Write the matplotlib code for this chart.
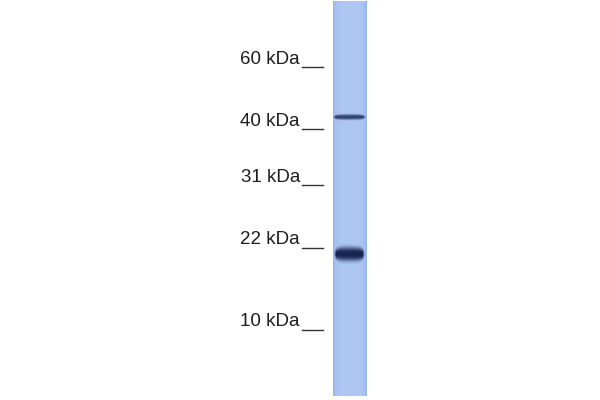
import numpy as np
import matplotlib
matplotlib.use("Agg")
import matplotlib.pyplot as plt

# marker ladder (label, vertical position in px)
marker_labels = ["60 kDa", "40 kDa", "31 kDa", "22 kDa", "10 kDa"]
marker_y = [59, 121, 177, 240, 322]

# bands seen in the lane: centre y, half thickness, half width (fraction of lane), darkness
band_y = [117, 254]
band_half = [2.6, 6.8]
band_width = [0.97, 0.92]
band_strength = [0.8, 1.0]

lane_left, lane_right = 333, 367
lane_top, lane_bottom = 1, 396

fig = plt.figure(figsize=(6, 4), dpi=100)
ax = fig.add_axes([0, 0, 1, 1])
ax.set_xlim(0, 600)
ax.set_ylim(400, 0)
ax.axis("off")

# build lane image
h = lane_bottom - lane_top
w = lane_right - lane_left
yy = np.arange(h)[:, None] + lane_top + 0.5
xx = np.arange(w)[None, :] + 0.5
xn = (xx - w / 2) / (w / 2)
base = np.array([174, 199, 243]) / 255
edge = np.array([150, 180, 236]) / 255
edge_w = np.clip(np.abs(xn) ** 5, 0, 1)[..., None]
img = base * (1 - edge_w) + edge * edge_w
img = np.broadcast_to(img, (h, w, 3)).copy()
dark = np.array([22, 36, 82]) / 255
for by, bh, bw, bs in zip(band_y, band_half, band_width, band_strength):
    # thickness shrinks toward the band ends -> rounded blob
    xr = np.abs(xn + 0.03) / bw
    local = bh * np.sqrt(np.clip(1 - xr ** 4, 0.01, 1))
    prof = np.exp(-np.abs((yy - by) / local) ** 3)
    fade = np.clip((1 - xr) * 6, 0, 1)
    a = np.clip(bs * prof * fade, 0, 1)[..., None]
    img = img * (1 - a) + dark * a
ax.imshow(np.clip(img, 0, 1), extent=[lane_left, lane_right, lane_bottom, lane_top],
          aspect="auto", interpolation="bilinear")

for lab, y in zip(marker_labels, marker_y):
    ax.text(300, y, lab, ha="right", va="center", fontsize=13.5,
            family="Liberation Sans", color="#1e1e1e")
    ax.plot([302, 323], [y + 8, y + 8], color="#333333", lw=1.0)

fig.savefig("out.png", dpi=100)
